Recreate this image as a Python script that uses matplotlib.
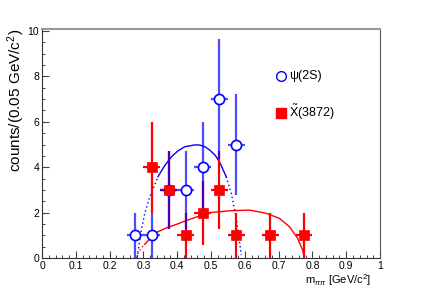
#!/usr/bin/env python3
'''
Dipion mass spectra for psi(2S) and X(3872) candidates, ROOT style.
'''

import numpy as np
import matplotlib
matplotlib.use('Agg')
import matplotlib.pyplot as plt
from matplotlib.ticker import MultipleLocator

plt.rcParams['font.family'] = ['Liberation Sans', 'DejaVu Sans']
plt.rcParams['mathtext.fontset'] = 'custom'
plt.rcParams['mathtext.rm'] = 'Liberation Sans'
plt.rcParams['mathtext.it'] = 'Liberation Sans:italic'

# bin centres (GeV/c^2) and counts
psi_x = [0.275, 0.325, 0.375, 0.425, 0.475, 0.525, 0.575]
psi_n = [1, 1, 3, 3, 4, 7, 5]
x3872_x = [0.325, 0.375, 0.425, 0.475, 0.525, 0.575, 0.675, 0.775]
x3872_n = [4, 3, 1, 2, 3, 1, 1, 1]
half_bin = 0.025

# fitted shapes
psi_fit_lo_x = [0.282, 0.288, 0.294, 0.304, 0.319, 0.343]
psi_fit_lo_y = [0.06, 0.7, 1.23, 1.97, 2.7, 3.58]
psi_fit_x = [0.343, 0.363, 0.383, 0.402, 0.422, 0.451, 0.466, 0.482,
             0.496, 0.512, 0.525, 0.545]
psi_fit_y = [3.58, 4.07, 4.46, 4.72, 4.9, 4.98, 4.98, 4.9,
             4.76, 4.53, 4.24, 3.58]
psi_fit_hi_x = [0.545, 0.56, 0.574, 0.584, 0.589]
psi_fit_hi_y = [3.58, 2.85, 1.82, 0.79, 0.13]

x_fit_lo_x = [0.279, 0.285, 0.294, 0.304]
x_fit_lo_y = [0.0, 0.25, 0.45, 0.6]
x_fit_x = [0.304, 0.322, 0.343, 0.367, 0.392, 0.44, 0.496, 0.555, 0.614,
           0.663, 0.702, 0.732, 0.756, 0.771, 0.776]
x_fit_y = [0.6, 0.9, 1.16, 1.32, 1.45, 1.72, 2.0, 2.08, 2.11,
           1.97, 1.75, 1.38, 0.87, 0.35, 0.0]

blue = '#0000ff'
red = '#ff0000'

fig = plt.figure(figsize=(4.23, 2.88), dpi=100)
ax = fig.add_axes([0.0993, 0.1042, 0.7991, 0.7951])

# fit curves
dots = (0, (1, 2))
ax.plot(psi_fit_lo_x, psi_fit_lo_y, color=blue, lw=1, ls=dots)
ax.plot(psi_fit_x, psi_fit_y, color=blue, lw=1)
ax.plot(psi_fit_hi_x, psi_fit_hi_y, color=blue, lw=1, ls=dots)
ax.plot(x_fit_lo_x, x_fit_lo_y, color=red, lw=1, ls=dots)
ax.plot(x_fit_x, x_fit_y, color=red, lw=1)

# error bars: red underneath, blue slightly transparent on top
ax.errorbar(x3872_x, x3872_n, xerr=half_bin, yerr=np.sqrt(x3872_n),
            fmt='none', ecolor=red, elinewidth=1.6, capsize=0, zorder=3)
ax.errorbar(psi_x, psi_n, xerr=half_bin, yerr=np.sqrt(psi_n),
            fmt='none', ecolor=blue, elinewidth=1.6, capsize=0,
            alpha=0.7, zorder=4)
ax.plot(psi_x, psi_n, ls='none', marker='o', ms=7.3, mfc='white',
        mec=blue, mew=1.2, zorder=5)
ax.plot(x3872_x, x3872_n, ls='none', marker='s', ms=7.3, mfc=red,
        mec=red, mew=0.5, zorder=6)

# legend drawn by hand like the ROOT TLegend
ax.plot([0.708], [8.0], ls='none', marker='o', ms=7, mfc='white',
        mec=blue, mew=1.0, clip_on=False)
ax.text(0.73, 8.0, 'ψ(2S)', fontsize=9, va='center', ha='left')
ax.plot([0.708], [6.4], ls='none', marker='s', ms=7, mfc=red, mec=red,
        clip_on=False)
ax.text(0.73, 6.4, r'$\tilde{\mathrm{X}}$(3872)', fontsize=9,
        va='center', ha='left')

ax.set_xlim(0, 1)
ax.set_ylim(0, 10.09)
ax.xaxis.set_major_locator(MultipleLocator(0.1))
ax.xaxis.set_minor_locator(MultipleLocator(0.02))
ax.yaxis.set_major_locator(MultipleLocator(2))
ax.yaxis.set_minor_locator(MultipleLocator(0.5))
ax.xaxis.set_major_formatter(plt.FuncFormatter(
    lambda v, p: '%g' % round(v, 2)))
ax.yaxis.set_major_formatter(plt.FuncFormatter(lambda v, p: '%g' % v))
ax.tick_params(which='both', direction='in', labelsize=7.5, top=False,
               right=False, color='#444444')
ax.tick_params(which='major', length=5, width=0.8, pad=2)
ax.tick_params(which='minor', length=2.5, width=0.7)

ax.spines['top'].set_color('#999999')
ax.spines['top'].set_linewidth(1.5)
ax.spines['right'].set_color('#555555')
ax.spines['left'].set_color('#333333')
ax.spines['bottom'].set_color('#333333')

ax.set_ylabel('counts/(0.05 GeV/c$^2$)', fontsize=11)
ax.yaxis.set_label_coords(-0.045, 1.0)
ax.yaxis.label.set_horizontalalignment('right')
ax.set_xlabel(r'm$_{\pi\pi}$ [GeV/c$^2$]', fontsize=8)
ax.xaxis.set_label_coords(0.975, -0.062)
ax.xaxis.label.set_horizontalalignment('right')

fig.savefig('out.png', dpi=100, facecolor='white')
